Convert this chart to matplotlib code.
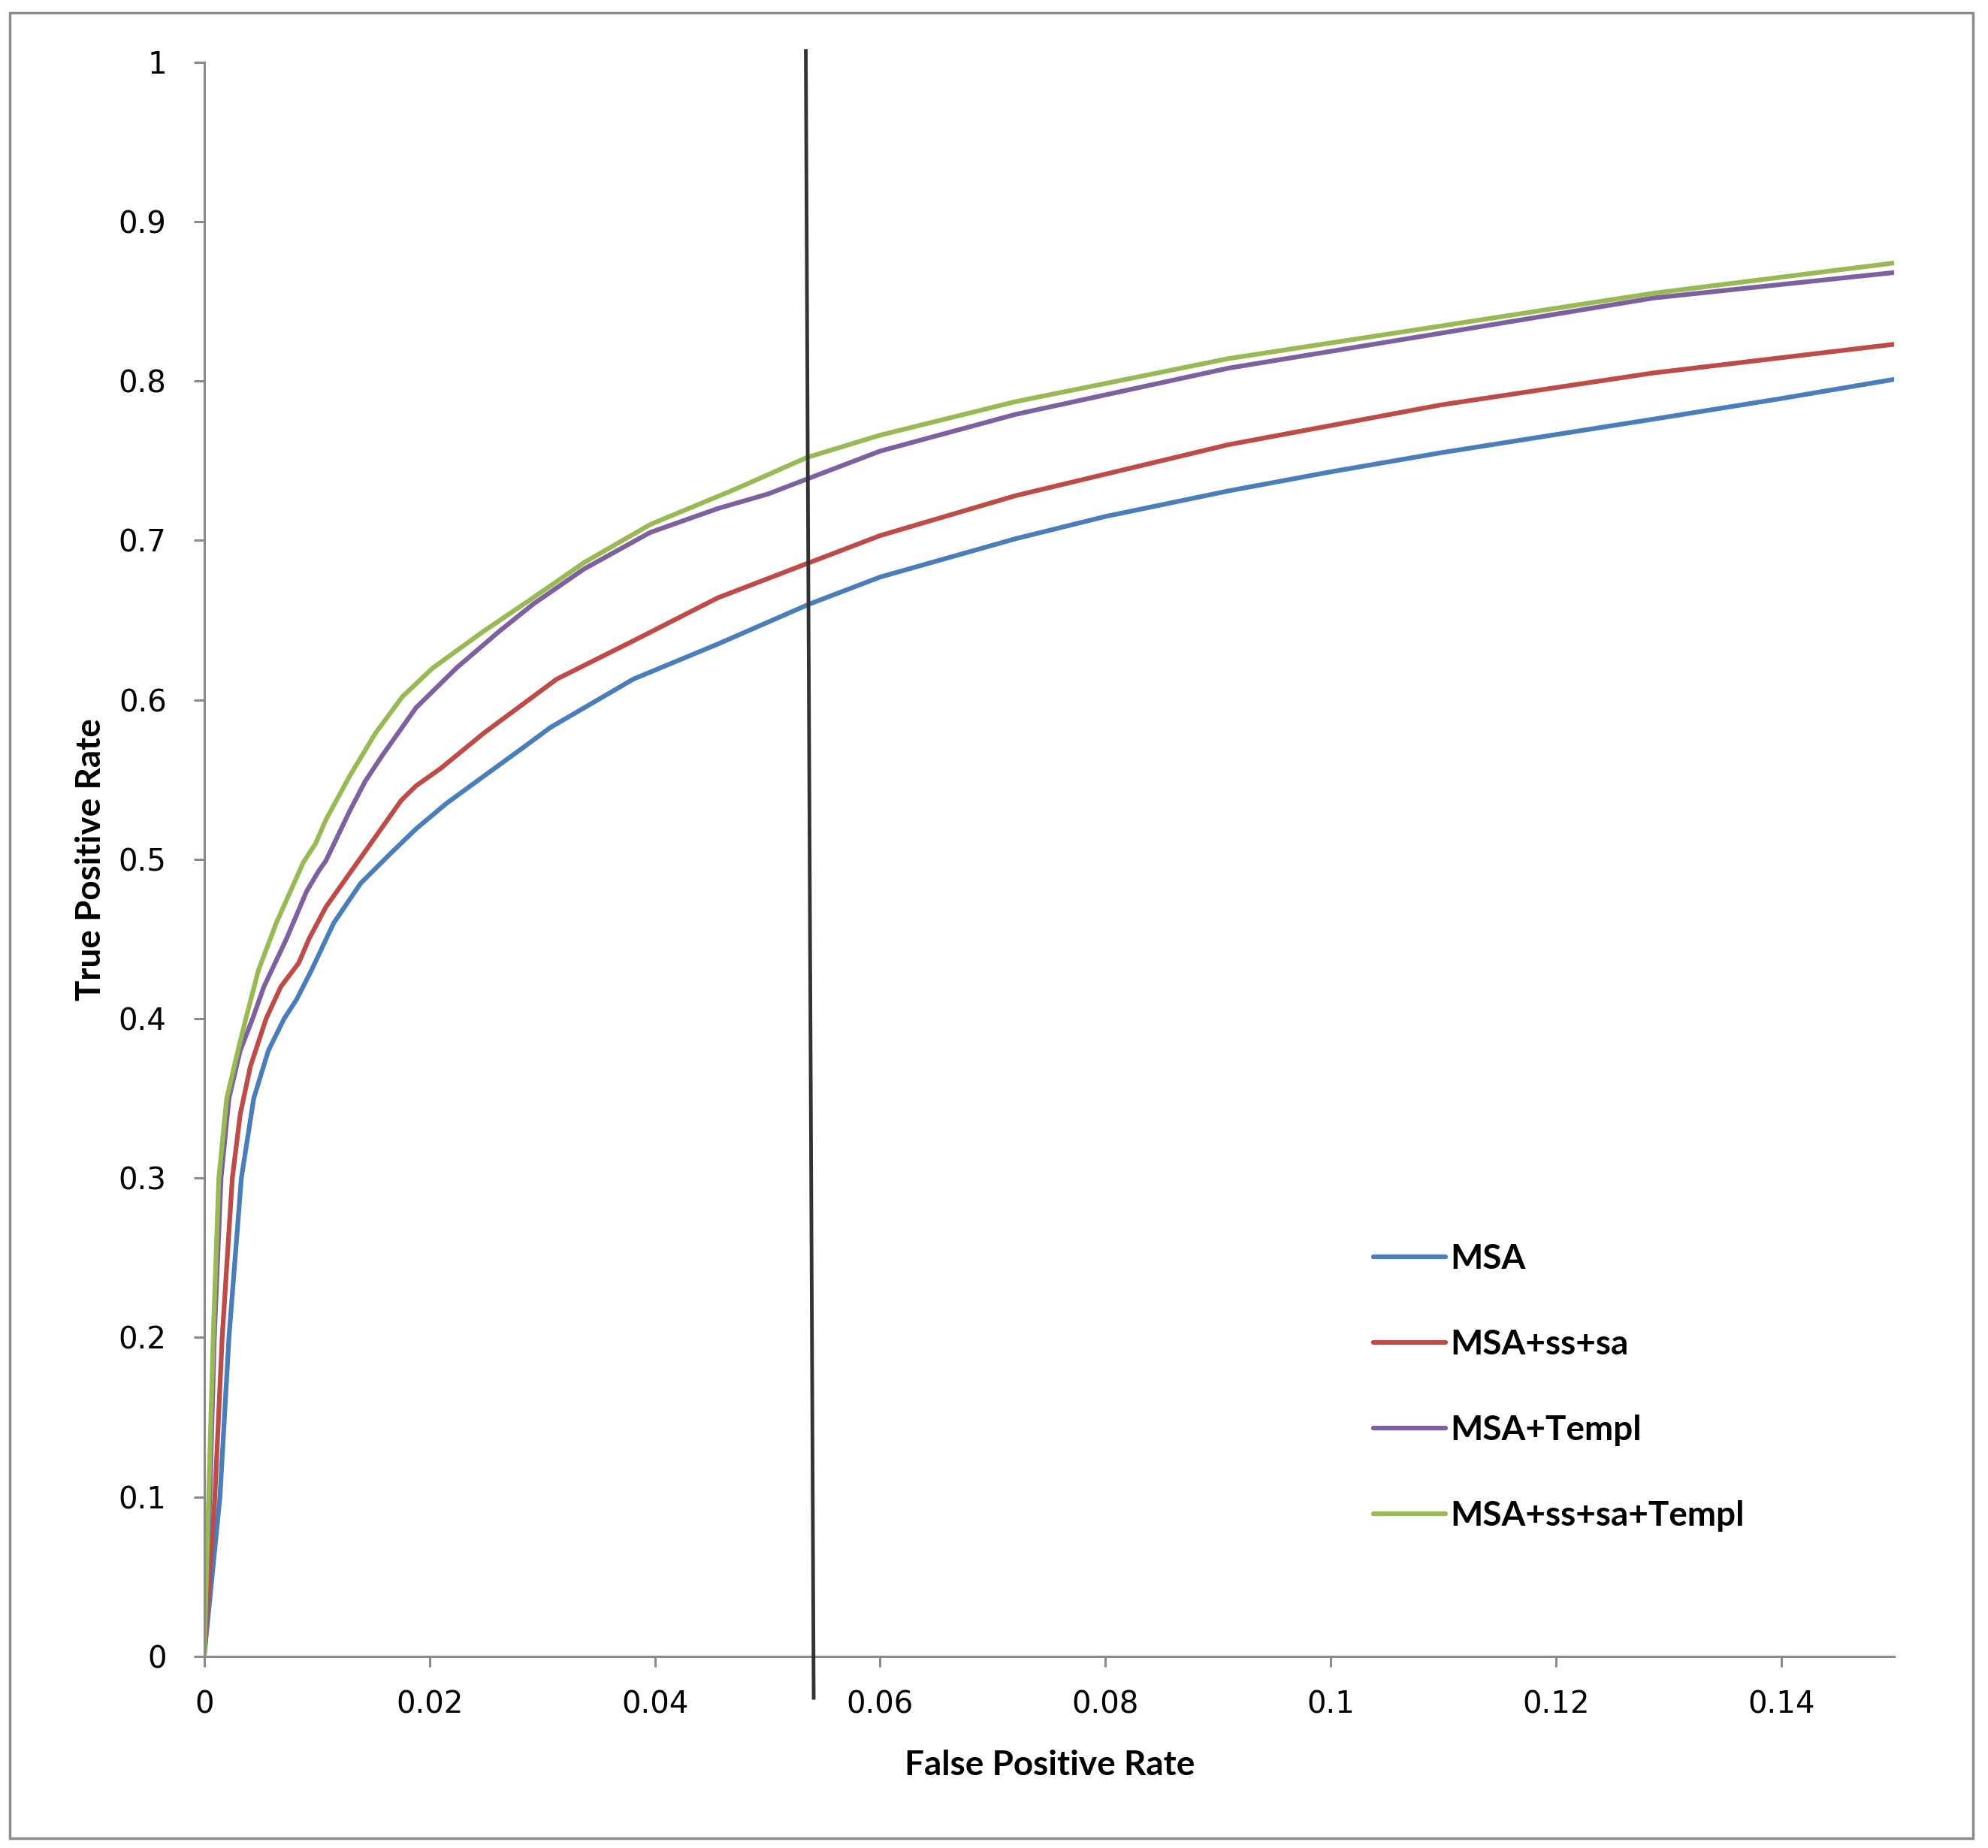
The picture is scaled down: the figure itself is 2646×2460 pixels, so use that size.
import matplotlib
matplotlib.use("Agg")
import matplotlib.pyplot as plt
from matplotlib.patches import Rectangle

# ---------------- data ----------------
series_names = ["MSA", "MSA+ss+sa", "MSA+Templ", "MSA+ss+sa+Templ"]
series_colors = ["#4a7ebb", "#be4b48", "#7d60a0", "#98b954"]

fpr_msa = [0, 0.0014, 0.0022, 0.0033, 0.0044, 0.0057, 0.0071, 0.0082, 0.0095, 0.0115, 0.0139,
           0.0166, 0.0188, 0.0215, 0.0248, 0.0285, 0.0307, 0.0381, 0.0456, 0.0537,
           0.060, 0.072, 0.080, 0.0909, 0.100, 0.1098, 0.1286, 0.140, 0.150]
tpr_msa = [0, 0.10, 0.20, 0.30, 0.35, 0.38, 0.40, 0.412, 0.43, 0.46, 0.485,
           0.504, 0.519, 0.535, 0.552, 0.571, 0.5825, 0.613, 0.635, 0.660,
           0.677, 0.701, 0.715, 0.731, 0.743, 0.755, 0.776, 0.789, 0.801]

fpr_red = [0, 0.00095, 0.0016, 0.0025, 0.0032, 0.0041, 0.0055, 0.0068, 0.0084, 0.0093, 0.0108,
           0.0132, 0.0158, 0.0175, 0.0188, 0.0210, 0.0248, 0.0313, 0.0381, 0.0456, 0.0537,
           0.060, 0.072, 0.0909, 0.1098, 0.1286, 0.150]
tpr_red = [0, 0.10, 0.20, 0.30, 0.34, 0.37, 0.40, 0.42, 0.435, 0.45, 0.47,
           0.494, 0.520, 0.537, 0.546, 0.557, 0.579, 0.613, 0.637, 0.664, 0.686,
           0.703, 0.728, 0.760, 0.785, 0.805, 0.823]

fpr_pur = [0, 0.0005, 0.0009, 0.0015, 0.0022, 0.0032, 0.0043, 0.0053, 0.0073, 0.0091, 0.0102,
           0.0108, 0.0129, 0.0143, 0.0158, 0.0188, 0.0224, 0.0262, 0.0292, 0.0337, 0.0396,
           0.0456, 0.0500, 0.0537, 0.060, 0.072, 0.0909, 0.1098, 0.1286, 0.150]
tpr_pur = [0, 0.10, 0.20, 0.30, 0.35, 0.38, 0.40, 0.42, 0.45, 0.48, 0.493,
           0.499, 0.530, 0.549, 0.565, 0.595, 0.620, 0.643, 0.660, 0.682, 0.705,
           0.720, 0.729, 0.739, 0.756, 0.779, 0.808, 0.830, 0.852, 0.868]

fpr_grn = [0, 0.0004, 0.0008, 0.0013, 0.0020, 0.0030, 0.0037, 0.0048, 0.0064, 0.0088, 0.0099,
           0.0108, 0.0129, 0.0152, 0.0176, 0.0203, 0.0248, 0.0292, 0.0337, 0.0396, 0.0471,
           0.0535, 0.060, 0.072, 0.0909, 0.1098, 0.1286, 0.150]
tpr_grn = [0, 0.10, 0.20, 0.30, 0.35, 0.38, 0.40, 0.43, 0.46, 0.498, 0.510,
           0.5247, 0.552, 0.579, 0.602, 0.620, 0.643, 0.664, 0.686, 0.710, 0.732,
           0.752, 0.766, 0.787, 0.814, 0.8345, 0.855, 0.874]

# threshold marker line (slightly slanted, extends past axes)
vline_x = [0.0534, 0.0541]
vline_y = [1.007, -0.026]

x_ticks = [0, 0.02, 0.04, 0.06, 0.08, 0.10, 0.12, 0.14]
x_tick_labels = ["0", "0.02", "0.04", "0.06", "0.08", "0.1", "0.12", "0.14"]
y_ticks = [0, 0.1, 0.2, 0.3, 0.4, 0.5, 0.6, 0.7, 0.8, 0.9, 1.0]
y_tick_labels = ["0", "0.1", "0.2", "0.3", "0.4", "0.5", "0.6", "0.7", "0.8", "0.9", "1"]

x_label = "False Positive Rate"
y_label = "True Positive Rate"

# ---------------- figure ----------------
fig = plt.figure(figsize=(26.46, 24.60), dpi=100)
fig.patch.set_facecolor("white")

# outer gray frame
fig.patches.append(Rectangle((0.0051, 0.0053), 0.9873, 0.9878, transform=fig.transFigure,
                             fill=False, edgecolor="#8c8c8c", linewidth=2.5))

ax = fig.add_axes([0.1027, 0.1037, 0.8501, 0.8627])

xs = [fpr_msa, fpr_red, fpr_pur, fpr_grn]
ys = [tpr_msa, tpr_red, tpr_pur, tpr_grn]
for x, y, name, c in zip(xs, ys, series_names, series_colors):
    ax.plot(x, y, color=c, linewidth=4.5, label=name, solid_capstyle="round",
            solid_joinstyle="round")

ax.plot(vline_x, vline_y, color="#333333", linewidth=3.5, clip_on=False, zorder=5)

ax.set_xlim(0, 0.15)
ax.set_ylim(0, 1)

for side in ["top", "right"]:
    ax.spines[side].set_visible(False)
for side in ["left", "bottom"]:
    ax.spines[side].set_color("#8a8a8a")
    ax.spines[side].set_linewidth(2.2)

ax.set_xticks(x_ticks)
ax.set_xticklabels(x_tick_labels)
ax.set_yticks(y_ticks)
ax.set_yticklabels(y_tick_labels)
ax.tick_params(axis="both", direction="out", length=10, width=2.2, color="#8a8a8a",
               labelsize=29, labelcolor="black")
ax.tick_params(axis="x", pad=22)
ax.tick_params(axis="y", pad=26)

ax.set_xlabel(x_label, fontsize=33, fontweight="bold", family="Lato")
ax.set_ylabel(y_label, fontsize=33, fontweight="bold", family="Lato")
ax.xaxis.set_label_coords(0.5004, -0.0684)
ax.xaxis.label.set_va("center")
ax.yaxis.set_label_coords(-0.0668, 0.5)
ax.yaxis.label.set_va("center")

leg = ax.legend(loc="upper left", bbox_to_anchor=(0.6917, 0.2590), frameon=False,
                prop={"family": "Lato", "weight": "bold", "size": 33},
                handlelength=2.1, handletextpad=0.13, labelspacing=1.57,
                borderpad=0, borderaxespad=0)
for h in leg.get_lines():
    h.set_linewidth(4.5)

fig.savefig("out.png", dpi=100, facecolor="white")
